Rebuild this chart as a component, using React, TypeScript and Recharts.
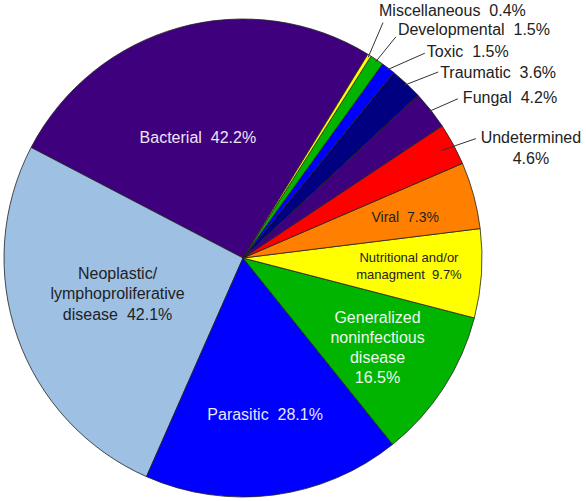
import React from 'react';
import { PieChart, Pie, Cell } from 'recharts';

const categories = [
  'Bacterial',
  'Neoplastic/lymphoproliferative disease',
  'Parasitic',
  'Generalized noninfectious disease',
  'Nutritional and/or managment',
  'Viral',
  'Undetermined',
  'Fungal',
  'Traumatic',
  'Toxic',
  'Developmental',
  'Miscellaneous',
];

const values = [42.2, 42.1, 28.1, 16.5, 9.7, 7.3, 4.6, 4.2, 3.6, 1.5, 1.5, 0.4];

const labelTexts: string[][] = [
  ['Bacterial  42.2%'],
  ['Neoplastic/', 'lymphoproliferative', 'disease  42.1%'],
  ['Parasitic  28.1%'],
  ['Generalized', 'noninfectious', 'disease', '16.5%'],
  ['Nutritional and/or', 'managment  9.7%'],
  ['Viral  7.3%'],
  ['Undetermined', '4.6%'],
  ['Fungal  4.2%'],
  ['Traumatic  3.6%'],
  ['Toxic  1.5%'],
  ['Developmental  1.5%'],
  ['Miscellaneous  0.4%'],
];

const colors = [
  '#3F007D',
  '#9DC0E3',
  '#0000FF',
  '#00B400',
  '#FFFF00',
  '#FF8000',
  '#FF0000',
  '#3F007D',
  '#000080',
  '#0000FF',
  '#00B400',
  '#FFFF00',
];

type Layout =
  | { kind: 'in'; rf: number; da: number; color: string; size: number; lh: number }
  | { kind: 'out'; rs: number; re: number; dae: number; tdx: number; tdy: number; anchor: 'start' | 'middle' };

const labelLayout: Layout[] = [
  { kind: 'in', rf: 0.54, da: 5, color: '#ECE6F6', size: 16, lh: 20 },
  { kind: 'in', rf: 0.545, da: -3.7, color: '#222222', size: 16, lh: 20.5 },
  { kind: 'in', rf: 0.66, da: 0.6, color: '#E6E6FF', size: 16, lh: 20 },
  { kind: 'in', rf: 0.675, da: -0.6, color: '#EEF8EE', size: 16, lh: 20 },
  { kind: 'in', rf: 0.695, da: 1.2, color: '#222222', size: 13, lh: 17 },
  { kind: 'in', rf: 0.7, da: -1, color: '#222222', size: 14, lh: 17 },
  { kind: 'out', rs: 0.945, re: 1.095, dae: -1.3, tdx: 55, tdy: -1, anchor: 'middle' },
  { kind: 'out', rs: 0.99, re: 1.119, dae: -1.7, tdx: 5, tdy: -1, anchor: 'start' },
  { kind: 'out', rs: 0.99, re: 1.128, dae: -3.3, tdx: 2, tdy: 0, anchor: 'start' },
  { kind: 'out', rs: 0.99, re: 1.146, dae: -4.2, tdx: 2, tdy: -2, anchor: 'start' },
  { kind: 'out', rs: 0.99, re: 1.125, dae: -0.6, tdx: 2, tdy: -7, anchor: 'start' },
  { kind: 'out', rs: 0.99, re: 1.146, dae: 1.2, tdx: -4, tdy: -12, anchor: 'start' },
];

const data = categories.map((name, i) => ({ name, value: values[i] }));

const FONT = '"Liberation Sans", Arial, Helvetica, sans-serif';
const RAD = Math.PI / 180;

const renderLabel = (props: any) => {
  const { cx, cy, midAngle, outerRadius, index } = props;
  const L = labelLayout[index];
  const lines = labelTexts[index];
  const pt = (r: number, a: number) => [cx + r * Math.cos(-a * RAD), cy + r * Math.sin(-a * RAD)];
  if (L.kind === 'in') {
    const [x, y] = pt(outerRadius * L.rf, midAngle + L.da);
    const y0 = y - ((lines.length - 1) * L.lh) / 2;
    return (
      <text
        key={`lbl-${index}`}
        x={x}
        y={y0}
        textAnchor="middle"
        dominantBaseline="central"
        fill={L.color}
        fontSize={L.size}
        fontFamily={FONT}
        style={{ whiteSpace: 'pre' }}
      >
        {lines.map((t, i) => (
          <tspan key={i} x={x} y={y0 + i * L.lh} dominantBaseline="central">
            {t}
          </tspan>
        ))}
      </text>
    );
  }
  const [sx, sy] = pt(outerRadius * L.rs, midAngle);
  const [ex, ey] = pt(outerRadius * L.re, midAngle + L.dae);
  const tx = ex + L.tdx;
  const ty = ey + L.tdy;
  return (
    <g key={`lbl-${index}`}>
      <line x1={sx} y1={sy} x2={ex} y2={ey} stroke="#333333" strokeWidth={1} />
      <text
        x={tx}
        y={ty}
        textAnchor={L.anchor}
        fill="#222222"
        fontSize={16}
        fontFamily={FONT}
        style={{ whiteSpace: 'pre' }}
      >
        {lines.map((t, i) => (
          <tspan key={i} x={tx} y={ty + i * 21} dominantBaseline="central">
            {t}
          </tspan>
        ))}
      </text>
    </g>
  );
};

export default function App() {
  return (
    <div style={{ position: 'absolute', left: 0, top: 0, width: 586, height: 501, background: '#fff' }}>
      <PieChart width={586} height={501} margin={{ top: 0, right: 0, bottom: 0, left: 0 }}>
        <Pie
          data={data}
          dataKey="value"
          nameKey="name"
          cx={243}
          cy={258}
          outerRadius={239}
          innerRadius={0}
          startAngle={58.5}
          endAngle={418.5}
          paddingAngle={0}
          stroke="#222222"
          strokeWidth={0.8}
          label={renderLabel}
          labelLine={false}
          isAnimationActive={false}
        >
          {data.map((d, i) => (
            <Cell key={d.name} fill={colors[i]} />
          ))}
        </Pie>
      </PieChart>
    </div>
  );
}
